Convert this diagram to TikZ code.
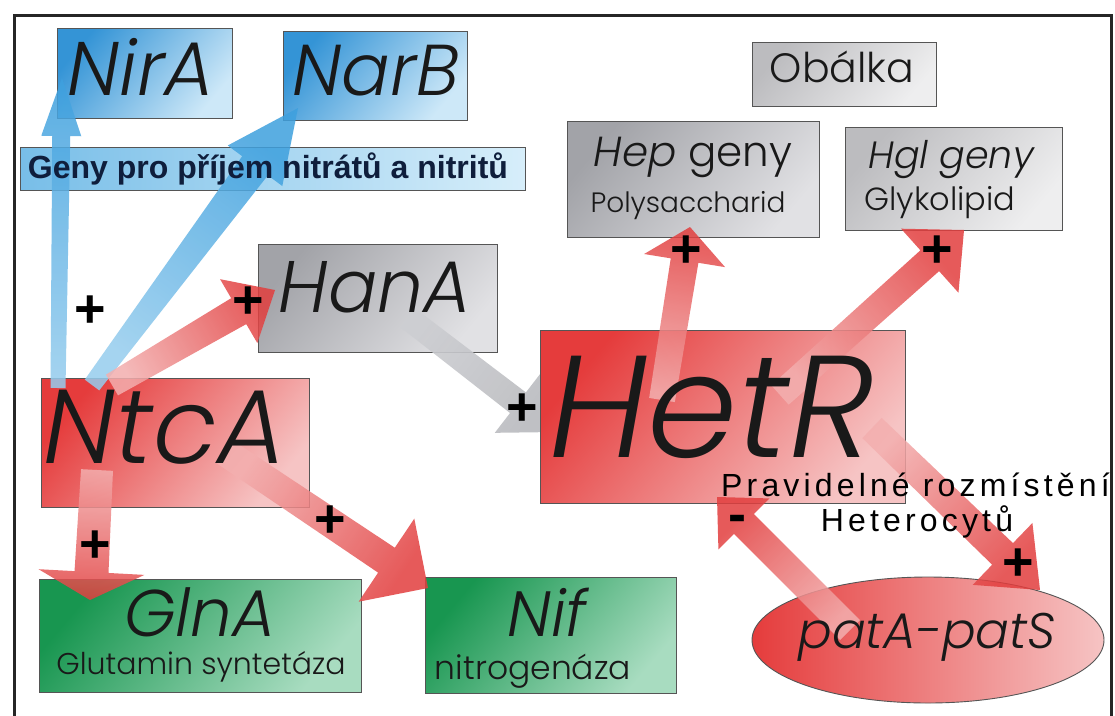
\documentclass[tikz,border=0pt]{standalone}
\usepackage{fontspec}
\setmainfont{Liberation Sans}
\newfontfamily\gothic{Poppins}[UprightFont={* Light},ItalicFont={* Light Italic}]
\usetikzlibrary{calc,shapes.geometric}
\definecolor{redA}{RGB}{229,60,60}
\definecolor{redB}{RGB}{246,196,196}
\definecolor{blueA}{RGB}{52,148,214}
\definecolor{blueB}{RGB}{205,232,248}
\definecolor{genyA}{RGB}{120,190,232}
\definecolor{genyB}{RGB}{215,238,250}
\definecolor{grayA}{RGB}{162,163,168}
\definecolor{grayB}{RGB}{225,225,228}
\definecolor{grayC}{RGB}{188,188,191}
\definecolor{grayD}{RGB}{238,238,239}
\definecolor{greenA}{RGB}{24,150,80}
\definecolor{greenB}{RGB}{168,220,192}
\definecolor{boxline}{RGB}{85,85,85}
\definecolor{txt}{RGB}{25,25,25}
\definecolor{navy}{RGB}{15,30,60}
\definecolor{arrred}{RGB}{226,62,62}
\definecolor{arrpale}{RGB}{243,175,175}
\definecolor{arrblue}{RGB}{62,160,222}
\definecolor{arrbluepale}{RGB}{150,205,238}
\definecolor{arrgray}{RGB}{185,186,190}
\definecolor{arrgrayB}{RGB}{205,206,210}
\newcommand\fatarrow[8]{%
  \coordinate (fac) at ($(#2)!#6!(#1)$);
  \path[#7, shading angle=#8] ($(#1)!#3!90:(#2)$) -- ($(fac)!#4!90:(#2)$) -- ($(fac)!#5!90:(#2)$) -- (#2) -- ($(fac)!#5!-90:(#2)$) -- ($(fac)!#4!-90:(#2)$) -- ($(#1)!#3!-90:(#2)$) -- cycle;}
\tikzset{
  box/.style={draw=boxline, line width=0.9pt, anchor=north west, inner sep=0pt},
  sz/.style 2 args={minimum width=#1pt, minimum height=#2pt},
  redbox/.style={top color=redA, bottom color=redB, shading angle=50},
  bluebox/.style={top color=blueA, bottom color=blueB, shading angle=50},
  graybox/.style={top color=grayA, bottom color=grayB, shading angle=50},
  lgraybox/.style={top color=grayC, bottom color=grayD, shading angle=50},
  greenbox/.style={top color=greenA, bottom color=greenB, shading angle=50},
  redarr/.style={top color=arrred, bottom color=arrpale, fill opacity=0.85},
  bluearr/.style={top color=arrblue, bottom color=arrbluepale, fill opacity=0.85},
  grayarr/.style={top color=arrgray, bottom color=arrgrayB, fill opacity=0.9},
  gi/.style={font=\gothic\itshape\fontsize{#1}{#1}\selectfont, text=txt, inner sep=0pt, anchor=base},
  gu/.style={font=\gothic\fontsize{#1}{#1}\selectfont, text=txt, inner sep=0pt, anchor=base},
  pm/.style={font=\bfseries\fontsize{54}{54}\selectfont, text=black, inner sep=0pt},
  arial/.style={font=\fontsize{32}{32}\selectfont\addfontfeature{LetterSpace=13}, text=black, inner sep=0pt},
}
\begin{document}
\begin{tikzpicture}[x=1pt,y=-1pt]
\useasboundingbox (0,0) rectangle (1115,715);
\fill[white] (0,0) rectangle (1115,715);
\draw[line width=3pt, black!85] (14,716) -- (14,15) -- (1111,15) -- (1111,716);

% boxes
\node[box, bluebox, sz={175}{90}] (NirA) at (57,28) {};
\node[box, bluebox, sz={184}{89}] (NarB) at (283,31) {};
\node[box, left color=genyA, right color=genyB, sz={505}{43}] (Geny) at (20,147) {};
\node[box, lgraybox, sz={184}{64}] (Obalka) at (752,42) {};
\node[box, graybox, sz={252}{116}] (Hep) at (567,121) {};
\node[box, lgraybox, sz={217}{103}] (Hgl) at (845,127) {};
\node[box, graybox, sz={239}{108}] (HanA) at (258,244) {};
\node[box, redbox, sz={268}{129}] (NtcA) at (41,378) {};
\node[box, greenbox, sz={322}{113}] (GlnA) at (39,579) {};
\node[box, greenbox, sz={251}{116}] (Nif) at (425,577) {};
\node[ellipse, draw=boxline, line width=0.9pt, left color=redA, right color=redB, minimum width=352pt, minimum height=126pt, inner sep=0pt] (pat) at (928,640) {};

% gray arrow HanA -> HetR (under HetR)
\coordinate (g1s) at (408,318);
\coordinate (g1t) at (556,432);
\fatarrow{g1s}{g1t}{12pt}{13pt}{38pt}{48pt}{grayarr}{-127.6}

\node[box, redbox, sz={365}{173}] (HetR) at (540,330) {};

% arrow end points
\coordinate (b1s) at (58,388);
\coordinate (b1t) at (62,78);
\coordinate (b2s) at (92,385);
\coordinate (b2t) at (298,108);
\coordinate (r1s) at (112,385);
\coordinate (r1t) at (275,290);
\coordinate (r2s) at (97,470);
\coordinate (r2t) at (90,600);
\coordinate (r3s) at (225,452);
\coordinate (r3t) at (428,588);
\coordinate (r4s) at (662,400);
\coordinate (r4t) at (690,227);
\coordinate (r5s) at (780,395);
\coordinate (r5t) at (964,230);
\coordinate (r6s) at (872,428);
\coordinate (r6t) at (1040,590);
\coordinate (r7s) at (850,630);
\coordinate (r7t) at (717,497);

\fatarrow{b1s}{b1t}{7.5pt}{9pt}{20pt}{58pt}{bluearr}{-1}
\fatarrow{b2s}{b2t}{9pt}{16pt}{34pt}{72pt}{bluearr}{-36.6}
\fatarrow{r1s}{r1t}{12pt}{15pt}{37pt}{42pt}{redarr}{-59.8}
\fatarrow{r2s}{r2t}{16pt}{17pt}{53pt}{28pt}{redarr}{-183}
\fatarrow{r3s}{r3t}{14pt}{15pt}{50pt}{50pt}{redarr}{-123.8}
\fatarrow{r4s}{r4t}{13pt}{14pt}{41pt}{34pt}{redarr}{-9.2}
\fatarrow{r5s}{r5t}{13pt}{14pt}{43pt}{46pt}{redarr}{-48.1}
\fatarrow{r6s}{r6t}{14pt}{15pt}{43pt}{52pt}{redarr}{-133.9}
\fatarrow{r7s}{r7t}{14pt}{14pt}{36pt}{38pt}{redarr}{45}

% labels
\node[gi=76] (tNirA) at (141,95) {NirA};
\node[gi=72] (tNarB) at (376,95) {NarB};
\node[font=\bfseries\fontsize{32}{32}\selectfont, text=navy, inner sep=0pt, anchor=base] (tGeny) at (268,178) {Geny pro příjem nitrátů a nitritů};
\node[gu=41] (tOb) at (842,82) {Obálka};
\node[gu=42] (tHep) at (693,166) {\itshape Hep\upshape{} geny};
\node[gu=28] (tPoly) at (688,212) {Polysaccharid};
\node[gi=38] (tHgl) at (951,168) {Hgl geny};
\node[gu=32] (tGly) at (940,210) {Glykolipid};
\node[gi=73] (tHanA) at (375,312) {HanA};
\node[gi=105] (tNtcA) at (165,463) {NtcA};
\node[gi=145] (tHetR) at (712,457) {HetR};
\node[gi=66] (tGlnA) at (200,636) {GlnA};
\node[gu=30] (tGlut) at (201,674) {Glutamin syntetáza};
\node[gi=64] (tNif) at (547,636) {Nif};
\node[gu=33] (tNitro) at (533,679) {nitrogenáza};
\node[gi=50] (tPat) at (927,648) {patA-patS};
\node[arial, anchor=base west] (tPrav) at (721,496) {Pravidelné rozmístění};
\node[arial, anchor=base] (tHetc) at (917,531) {Heterocytů};

% signs
\node[pm] (p1) at (90,312) {+};
\node[pm] (p2) at (248,303) {+};
\node[pm] (p3) at (522,410) {+};
\node[pm] (p4) at (95,547) {+};
\node[pm] (p5) at (330,522) {+};
\node[pm] (p6) at (686,252) {+};
\node[pm] (p7) at (937,252) {+};
\node[pm] (p8) at (1018,565) {+};
\node[pm] (m1) at (737,524) {-};
\end{tikzpicture}
\end{document}
